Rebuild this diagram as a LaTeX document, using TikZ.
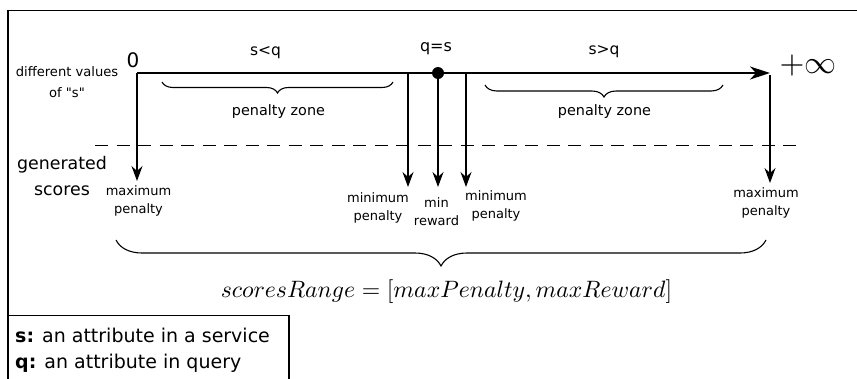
\documentclass[tikz,border=0pt]{standalone}
\usepackage{fontspec}
\setmainfont{DejaVu Sans}
\usetikzlibrary{arrows.meta,decorations.pathreplacing}
\newcommand\setfs[2]{\fontsize{#1}{#2}\selectfont}

\begin{document}
\begin{tikzpicture}[x=1pt,y=-1pt,
  axisline/.style={line width=1.5pt,-{Stealth[length=20pt,width=13pt,inset=6pt]}},
  drop/.style={line width=1.2pt,-{Stealth[length=15pt,width=11pt,inset=5pt]}},
  lbl/.style={inner sep=0pt,align=center},
  small/.style={lbl,font=\setfs{13}{18}},
  brc/.style={decorate,decoration={brace,mirror,amplitude=#1},line width=1.1pt},
]
\useasboundingbox (0,0) rectangle (857,378);

% outer frame (top and left edges)
\draw[line width=1.2pt] (8,378) -- (8,10.5) -- (857,10.5);

% axis of values of s
\coordinate (zero) at (137,73);
\coordinate (inf) at (770,73);
\draw[axisline] (zero) -- (inf);
\node[circle,fill,inner sep=0pt,minimum size=12pt] (qdot) at (438,73) {};

% axis labels
\node[lbl,font=\setfs{13.1}{21}] (diff) at (67,82) {different values\\of \textquotedbl s\textquotedbl};
\node[lbl,font=\setfs{20}{24}] (zlab) at (133,60) {0};
\node[lbl,font=\setfs{15.5}{18}] (sltq) at (265.5,53) {s<q};
\node[lbl,font=\setfs{16}{18}] (qeqs) at (436,49) {q=s};
\node[lbl,font=\setfs{15.5}{18}] (sgtq) at (604,52) {s>q};
\node[lbl] (inflab) at (808,65) {\scalebox{3.2}{$+\infty$}};

% penalty zones
\draw[brc=11pt] (162,82) -- (393,82);
\draw[brc=12pt] (485,85) -- (723,85);
\node[lbl,font=\setfs{14.4}{18}] (pz1) at (278.5,112) {penalty zone};
\node[lbl,font=\setfs{14.4}{18}] (pz2) at (604.5,112) {penalty zone};

% separation between values and scores
\draw[line width=1.1pt,dash pattern=on 13pt off 8.5pt] (95,145.5) -- (800,145.5);
\node[lbl,font=\setfs{17.4}{26}] (gen) at (62,176) {generated\\scores};

% mapping of values to scores
\coordinate (m1) at (408,73);
\coordinate (m3) at (466,73);
\coordinate (m4) at (770,75);
\coordinate (t0) at (137,181);
\coordinate (t1) at (408,187);
\coordinate (t2) at (438,187);
\coordinate (t3) at (466,187);
\coordinate (t4) at (770,183);
\draw[drop] (zero) -- (t0);
\draw[drop] (m1) -- (t1);
\draw[drop] (qdot.center) -- (t2);
\draw[drop] (m3) -- (t3);
\draw[drop] (m4) -- (t4);

\node[small] (mp1) at (138.5,201) {maximum\\penalty};
\node[small] (mnp1) at (378,208) {minimum\\penalty};
\node[small] (mr) at (436.5,212) {min\\reward};
\node[small] (mnp2) at (496,206) {minimum\\penalty};
\node[small] (mp2) at (766,203) {maximum\\penalty};

% range of scores
\draw[brc=26pt] (116,240) -- (766,240);
\node[lbl] (range) at (446.5,292) {\scalebox{2.37}{$scoresRange=[maxPenalty,maxReward]$}};

% legend
\draw[line width=1.2pt] (8,315.5) rectangle (289,400);
\node[inner sep=0pt,align=left,anchor=west,font=\setfs{19}{26}] (legend) at (15,350)
  {\textbf{s:} an attribute in a service\\\textbf{q:} an attribute in query};
\end{tikzpicture}
\end{document}
